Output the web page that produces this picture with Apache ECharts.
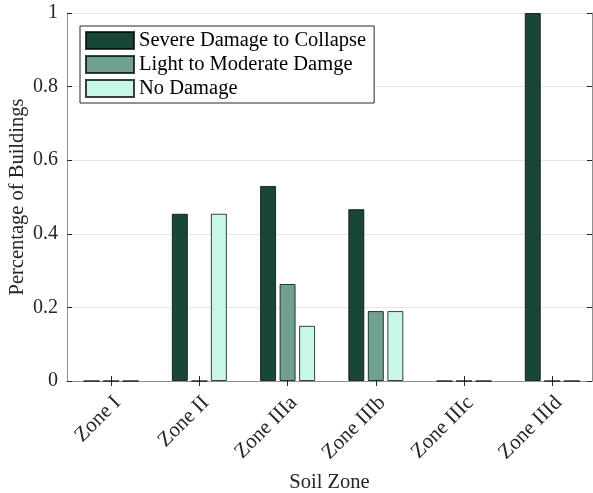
<!DOCTYPE html>
<html>
<head>
<meta charset="utf-8">
<script src="https://cdn.jsdelivr.net/npm/echarts@6/dist/echarts.min.js"></script>
<style>
  html, body { margin: 0; padding: 0; background: #fff; }
  #chart { width: 593px; height: 493px; }
</style>
</head>
<body>
<div id="chart"></div>
<script>
// Soil zones along the x axis (positions 1..6)
const zones = ['Zone I', 'Zone II', 'Zone IIIa', 'Zone IIIb', 'Zone IIIc', 'Zone IIId'];
const zonePos = [1, 2, 3, 4, 5, 6];

// Share of buildings per damage state in each zone
const severe   = [0, 0.4545, 0.53, 0.467, 0, 1.0];
const moderate = [0, 0,      0.2636, 0.19, 0, 0];
const noDamage = [0, 0.4545, 0.15,  0.19, 0, 0];

const yTicks = [0, 0.2, 0.4, 0.6, 0.8, 1];

const FONT = '"Liberation Serif", "Times New Roman", serif';
const TEXT = '#262626';
const LINE = '#8f8f8f';

const pairs = vals => zonePos.map((p, i) => [p, vals[i]]);

const barStyle = color => ({
  color: color,
  borderColor: 'rgba(0,0,0,0.75)',
  borderWidth: 1
});

const chart = echarts.init(document.getElementById('chart'), null, { renderer: 'canvas' });

const xCommon = {
  type: 'value',
  min: 0.5,
  max: 6.45,
  splitLine: { show: false },
  axisLine: { show: true, lineStyle: { color: LINE, width: 1 } }
};

const yCommon = {
  type: 'value',
  min: 0,
  max: 1,
  interval: 0.2,
  axisLine: { show: true, lineStyle: { color: LINE, width: 1 } }
};

chart.setOption({
  animation: false,
  textStyle: { fontFamily: FONT },
  grid: {
    left: 67, right: 1, top: 13, bottom: 112,
    containLabel: false,
    outerBoundsMode: 'none'
  },
  legend: {
    orient: 'vertical',
    left: 80,
    top: 26,
    padding: [4, 8, 4, 5],
    itemGap: 3,
    itemWidth: 48,
    itemHeight: 17,
    itemTextGap: 4,
    icon: 'rect',
    borderColor: TEXT,
    borderWidth: 1,
    backgroundColor: '#fff',
    textStyle: { fontFamily: FONT, fontSize: 20.5, color: '#000' },
    data: ['Severe Damage to Collapse', 'Light to Moderate Damge', 'No Damage']
  },
  xAxis: [
    Object.assign({}, xCommon, {
      position: 'bottom',
      name: 'Soil Zone',
      nameLocation: 'middle',
      nameGap: 91,
      nameMoveOverlap: false,
      nameTextStyle: { fontFamily: FONT, fontSize: 20.5, color: TEXT },
      axisTick: { show: true, inside: true, length: 5, customValues: zonePos, lineStyle: { color: TEXT } },
      axisLabel: {
        show: true,
        customValues: zonePos,
        rotate: 45,
        margin: 25,
        padding: [0, -9, 0, 0],
        fontFamily: FONT,
        fontSize: 21,
        color: TEXT,
        formatter: v => zones[Math.round(v) - 1] || ''
      }
    }),
    Object.assign({}, xCommon, {
      position: 'top',
      axisTick: { show: true, inside: true, length: 5, customValues: zonePos, lineStyle: { color: TEXT } },
      axisLabel: { show: false }
    })
  ],
  yAxis: [
    Object.assign({}, yCommon, {
      position: 'left',
      name: 'Percentage of Buildings',
      nameLocation: 'middle',
      nameGap: 39,
      nameMoveOverlap: false,
      nameTextStyle: { fontFamily: FONT, fontSize: 20.5, color: TEXT },
      axisTick: { show: true, inside: true, length: 5, lineStyle: { color: TEXT } },
      axisLabel: {
        margin: 9,
        padding: [6, 0, 0, 0],
        fontFamily: FONT,
        fontSize: 20,
        color: TEXT,
        customValues: yTicks,
        formatter: v => String(+v.toFixed(1))
      },
      splitLine: { show: true, lineStyle: { color: '#e6e6e6', width: 1 } }
    }),
    Object.assign({}, yCommon, {
      position: 'right',
      axisTick: { show: true, inside: true, length: 5, lineStyle: { color: TEXT } },
      axisLabel: { show: false },
      splitLine: { show: false }
    })
  ],
  series: [
    {
      name: 'Severe Damage to Collapse',
      type: 'bar',
      xAxisIndex: 0,
      yAxisIndex: 0,
      barWidth: 16,
      barGap: '22%',
      itemStyle: barStyle('#18473a'),
      data: pairs(severe)
    },
    {
      name: 'Light to Moderate Damge',
      type: 'bar',
      xAxisIndex: 0,
      yAxisIndex: 0,
      barWidth: 16,
      barGap: '22%',
      itemStyle: barStyle('#70a18e'),
      data: pairs(moderate)
    },
    {
      name: 'No Damage',
      type: 'bar',
      xAxisIndex: 0,
      yAxisIndex: 0,
      barWidth: 16,
      barGap: '22%',
      itemStyle: barStyle('#c9f7e6'),
      data: pairs(noDamage)
    }
  ]
});
</script>
</body>
</html>
